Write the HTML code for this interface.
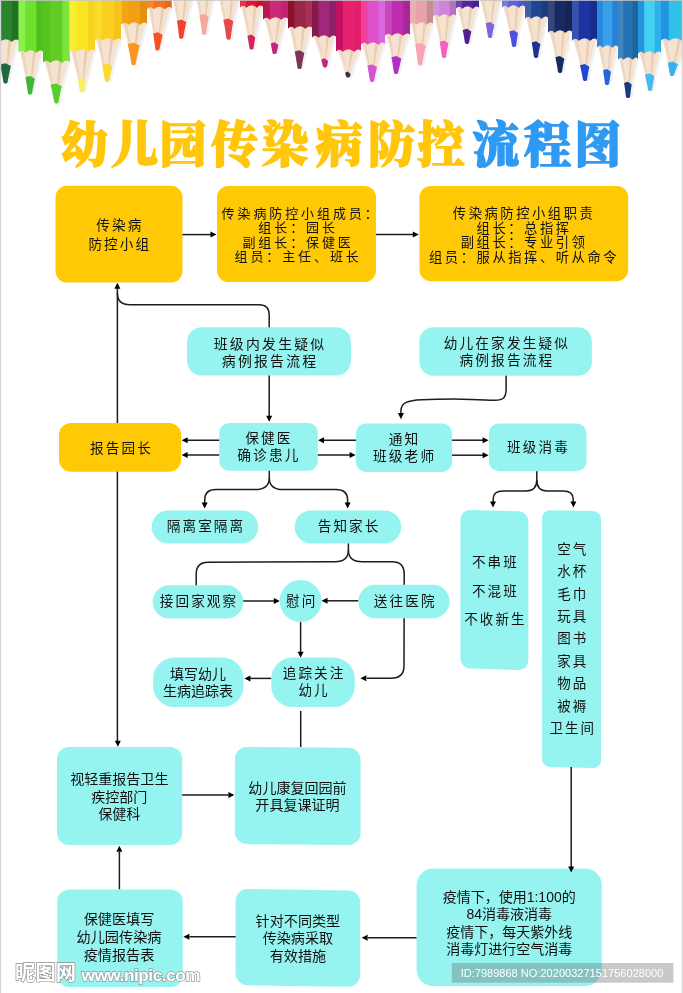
<!DOCTYPE html>
<html lang="zh-CN"><head><meta charset="utf-8"><title>幼儿园传染病防控流程图</title>
<style>
html,body{margin:0;padding:0;background:#fff;}
body{width:683px;height:993px;overflow:hidden;position:relative;font-family:"Liberation Sans","Noto Sans CJK SC",sans-serif;}
svg{position:absolute;left:0;top:0;display:block;will-change:transform;}
text{font-family:"Liberation Sans","Noto Sans CJK SC",sans-serif;fill:#111;text-anchor:middle;dominant-baseline:central;}
.sp{font-weight:400;}
.ns{font-weight:400;}
.title{font-family:"Liberation Serif","Noto Serif CJK SC",serif;font-weight:900;font-size:50px;text-anchor:start;dominant-baseline:alphabetic;letter-spacing:0.9px;}
</style></head><body>
<svg width="683" height="993" viewBox="0 0 683 993">
<rect x="0" y="0" width="683" height="993" fill="#fff"/>

<g id="pencils">
<polygon points="-4.0,38.5 -2.9,42.4 -1.9,46.2 -0.9,50.0 0.0,53.8 0.9,57.5 1.8,61.2 2.6,64.9 3.4,68.6 4.1,72.2 4.8,75.9 5.4,79.4 6.0,83.0 8.0,84.0 10.0,83.0 10.6,79.4 11.3,75.9 12.1,72.2 12.9,68.6 13.7,64.9 14.6,61.2 15.5,57.5 16.4,53.8 17.4,50.0 18.5,46.2 19.6,42.4 20.7,38.5" fill="#e9edf2" opacity="0.7"/>
<polygon points="-6.5,38.0 -5.4,41.9 -4.4,45.7 -3.4,49.5 -2.5,53.3 -1.6,57.0 -0.7,60.8 0.1,64.4 0.9,68.1 1.6,71.8 2.3,75.4 2.9,78.9 3.5,82.5 5.5,83.5 7.5,82.5 8.1,78.9 8.8,75.4 9.6,71.8 10.4,68.1 11.2,64.4 12.1,60.8 13.0,57.0 13.9,53.3 14.9,49.5 16.0,45.7 17.1,41.9 18.2,38.0" fill="#f5e2cf"/>
<polygon points="8.4,38 11.5,38 6.3,77.5 5.7,77.5" fill="#e2c2a4" opacity="0.7"/>
<polygon points="-4.9,38 -1.9,38 4.3,73.5 3.7,73.5" fill="#e8ccb0" opacity="0.6"/>
<polygon points="0.1,64.4 0.1,64.4 0.9,68.1 1.6,71.8 2.3,75.4 2.9,78.9 3.5,82.5 4.7,83.5 6.3,83.5 7.5,82.5 8.1,78.9 8.8,75.4 9.6,71.8 10.4,68.1 11.2,64.4 10.9,65.9 5.5,63.2" fill="#1f6a3a"/>
<path d="M-7,-5 L-7,41.5 Q-3.5,37.5 -0.1,41.8 Q5.8,36.5 11.8,41.8 Q15.2,37.5 18.7,40.5 L18.7,-5 Z" fill="#2a862c"/>
<path d="M-7,-5 L-7,41.5 Q-3.5,37.5 -0.1,41.8 L-0.1,-5 Z" fill="#2f9432"/>
<path d="M11.8,-5 L11.8,41.8 Q15.2,37.5 18.7,40.5 L18.7,-5 Z" fill="#1f7424"/>
<polygon points="21.7,49.5 22.7,53.4 23.6,57.2 24.5,61.0 25.3,64.8 26.1,68.5 26.9,72.2 27.6,75.9 28.3,79.6 28.9,83.2 29.5,86.9 30.0,90.4 30.5,94.0 32.5,95.0 34.5,94.0 35.1,90.4 35.8,86.9 36.5,83.2 37.3,79.6 38.1,75.9 39.0,72.2 39.8,68.5 40.8,64.8 41.8,61.0 42.8,57.2 43.9,53.4 45.0,49.5" fill="#e9edf2" opacity="0.7"/>
<polygon points="19.2,49.0 20.2,52.9 21.1,56.7 22.0,60.5 22.8,64.3 23.6,68.0 24.4,71.8 25.1,75.4 25.8,79.1 26.4,82.8 27.0,86.4 27.5,89.9 28.0,93.5 30.0,94.5 32.0,93.5 32.6,89.9 33.3,86.4 34.0,82.8 34.8,79.1 35.6,75.4 36.5,71.8 37.3,68.0 38.3,64.3 39.3,60.5 40.3,56.7 41.4,52.9 42.5,49.0" fill="#f5e2cf"/>
<polygon points="33.3,49 36.2,49 30.8,88.5 30.2,88.5" fill="#e2c2a4" opacity="0.7"/>
<polygon points="20.6,49 23.6,49 28.8,84.5 28.2,84.5" fill="#e8ccb0" opacity="0.6"/>
<polygon points="25.4,77.2 25.8,79.1 26.4,82.8 27.0,86.4 27.5,89.9 28.0,93.5 29.2,94.5 30.8,94.5 32.0,93.5 32.6,89.9 33.3,86.4 34.0,82.8 34.8,79.1 34.9,78.7 30.2,76.0" fill="#3cb835"/>
<path d="M18.7,-5 L18.7,52.5 Q22.0,48.5 25.3,52.8 Q30.9,47.5 36.4,52.8 Q39.7,48.5 43,51.5 L43,-5 Z" fill="#70e030"/>
<path d="M18.7,-5 L18.7,52.5 Q22.0,48.5 25.3,52.8 L25.3,-5 Z" fill="#8cf04c"/>
<path d="M36.4,-5 L36.4,52.8 Q39.7,48.5 43,51.5 L43,-5 Z" fill="#50c020"/>
<polygon points="46.0,59.5 47.2,63.3 48.3,67.0 49.3,70.8 50.3,74.4 51.3,78.1 52.3,81.8 53.1,85.4 54.0,88.9 54.8,92.5 55.5,96.0 56.2,99.5 56.9,103.0 58.9,104.0 60.9,103.0 61.5,99.5 62.2,96.0 63.0,92.5 63.7,88.9 64.5,85.4 65.4,81.8 66.3,78.1 67.3,74.4 68.2,70.8 69.3,67.0 70.4,63.3 71.5,59.5" fill="#e9edf2" opacity="0.7"/>
<polygon points="43.5,59.0 44.7,62.8 45.8,66.5 46.8,70.2 47.8,73.9 48.8,77.6 49.8,81.2 50.6,84.9 51.5,88.4 52.3,92.0 53.0,95.5 53.7,99.0 54.4,102.5 56.4,103.5 58.4,102.5 59.0,99.0 59.7,95.5 60.5,92.0 61.2,88.4 62.0,84.9 62.9,81.2 63.8,77.6 64.8,73.9 65.8,70.2 66.8,66.5 67.9,62.8 69.0,59.0" fill="#f5e2cf"/>
<polygon points="58.9,59 62.1,59 57.2,97.5 56.6,97.5" fill="#e2c2a4" opacity="0.7"/>
<polygon points="45.1,59 48.3,59 55.2,93.5 54.6,93.5" fill="#e8ccb0" opacity="0.6"/>
<polygon points="50.6,84.8 50.6,84.9 51.5,88.4 52.3,92.0 53.0,95.5 53.7,99.0 54.4,102.5 55.6,103.5 57.2,103.5 58.4,102.5 59.0,99.0 59.7,95.5 60.5,92.0 61.2,88.4 62.0,84.9 61.7,86.3 56.2,83.6" fill="#55d02a"/>
<path d="M43,-5 L43,62.5 Q46.6,58.5 50.2,62.8 Q56.2,57.5 62.3,62.8 Q65.9,58.5 69.5,61.5 L69.5,-5 Z" fill="#60cc24"/>
<path d="M43,-5 L43,62.5 Q46.6,58.5 50.2,62.8 L50.2,-5 Z" fill="#54c41e"/>
<path d="M62.3,-5 L62.3,62.8 Q65.9,58.5 69.5,61.5 L69.5,-5 Z" fill="#7ce43a"/>
<polygon points="72.5,48.5 73.6,52.3 74.6,56.0 75.6,59.8 76.5,63.4 77.4,67.1 78.3,70.8 79.1,74.4 79.9,77.9 80.6,81.5 81.3,85.0 81.9,88.5 82.5,92.0 84.5,93.0 86.5,92.0 87.1,88.5 87.8,85.0 88.5,81.5 89.3,77.9 90.1,74.4 91.0,70.8 91.8,67.1 92.8,63.4 93.8,59.8 94.8,56.0 95.9,52.3 97.0,48.5" fill="#e9edf2" opacity="0.7"/>
<polygon points="70.0,48.0 71.1,51.8 72.1,55.5 73.1,59.2 74.0,62.9 74.9,66.6 75.8,70.2 76.6,73.9 77.4,77.4 78.1,81.0 78.8,84.5 79.4,88.0 80.0,91.5 82.0,92.5 84.0,91.5 84.6,88.0 85.3,84.5 86.0,81.0 86.8,77.4 87.6,73.9 88.5,70.2 89.3,66.6 90.3,62.9 91.3,59.2 92.3,55.5 93.4,51.8 94.5,48.0" fill="#f5e2cf"/>
<polygon points="84.8,48 87.9,48 82.8,86.5 82.2,86.5" fill="#e2c2a4" opacity="0.7"/>
<polygon points="71.5,48 74.6,48 80.8,82.5 80.2,82.5" fill="#e8ccb0" opacity="0.6"/>
<polygon points="77.7,79.2 78.1,81.0 78.8,84.5 79.4,88.0 80.0,91.5 81.2,92.5 82.8,92.5 84.0,91.5 84.6,88.0 85.3,84.5 86.0,81.0 86.1,80.7 81.9,78.0" fill="#f8ef62"/>
<path d="M69.5,-5 L69.5,51.5 Q72.9,47.5 76.4,51.8 Q82.2,46.5 88.1,51.8 Q91.6,47.5 95,50.5 L95,-5 Z" fill="#f8e624"/>
<path d="M69.5,-5 L69.5,51.5 Q72.9,47.5 76.4,51.8 L76.4,-5 Z" fill="#f8ee30"/>
<path d="M88.1,-5 L88.1,51.8 Q91.6,47.5 95,50.5 L95,-5 Z" fill="#f6d420"/>
<polygon points="98.0,37.5 99.0,41.3 100.0,45.1 101.0,48.9 101.9,52.6 102.7,56.3 103.5,60.0 104.3,63.7 105.0,67.3 105.7,70.9 106.4,74.4 107.0,78.0 107.5,81.5 109.5,82.5 111.5,81.5 112.2,78.0 113.0,74.4 113.8,70.9 114.6,67.3 115.5,63.7 116.5,60.0 117.4,56.3 118.5,52.6 119.5,48.9 120.6,45.1 121.8,41.3 123.0,37.5" fill="#e9edf2" opacity="0.7"/>
<polygon points="95.5,37.0 96.5,40.8 97.5,44.6 98.5,48.4 99.4,52.1 100.2,55.8 101.0,59.5 101.8,63.2 102.5,66.8 103.2,70.4 103.9,73.9 104.5,77.5 105.0,81.0 107.0,82.0 109.0,81.0 109.7,77.5 110.5,73.9 111.3,70.4 112.1,66.8 113.0,63.2 114.0,59.5 114.9,55.8 116.0,52.1 117.0,48.4 118.1,44.6 119.3,40.8 120.5,37.0" fill="#f5e2cf"/>
<polygon points="110.6,37 113.7,37 107.8,76.0 107.2,76.0" fill="#e2c2a4" opacity="0.7"/>
<polygon points="97.1,37 100.2,37 105.8,72.0 105.2,72.0" fill="#e8ccb0" opacity="0.6"/>
<polygon points="102.2,64.9 102.5,66.8 103.2,70.4 103.9,73.9 104.5,77.5 105.0,81.0 106.2,82.0 107.8,82.0 109.0,81.0 109.7,77.5 110.5,73.9 111.3,70.4 112.1,66.8 112.2,66.4 107.2,63.7" fill="#fbdc28"/>
<path d="M95,-5 L95,40.5 Q98.5,36.5 102.0,40.8 Q108.0,35.5 114.0,40.8 Q117.5,36.5 121,39.5 L121,-5 Z" fill="#f9d020"/>
<path d="M95,-5 L95,40.5 Q98.5,36.5 102.0,40.8 L102.0,-5 Z" fill="#fbdc2c"/>
<path d="M114.0,-5 L114.0,40.8 Q117.5,36.5 121,39.5 L121,-5 Z" fill="#f6c21c"/>
<polygon points="124.5,21.5 125.5,25.3 126.5,29.0 127.5,32.7 128.4,36.4 129.2,40.0 130.1,43.6 130.8,47.2 131.5,50.8 132.2,54.3 132.9,57.9 133.5,61.3 134.0,64.8 136.0,65.8 138.0,64.8 138.7,61.3 139.4,57.9 140.2,54.3 141.0,50.8 141.8,47.2 142.7,43.6 143.6,40.0 144.6,36.4 145.7,32.7 146.7,29.0 147.8,25.3 149.0,21.5" fill="#e9edf2" opacity="0.7"/>
<polygon points="122.0,21.0 123.0,24.8 124.0,28.5 125.0,32.2 125.9,35.9 126.7,39.5 127.5,43.1 128.3,46.7 129.0,50.3 129.7,53.8 130.4,57.4 131.0,60.8 131.5,64.3 133.5,65.3 135.5,64.3 136.2,60.8 136.9,57.4 137.7,53.8 138.5,50.3 139.3,46.7 140.2,43.1 141.1,39.5 142.1,35.9 143.2,32.2 144.2,28.5 145.3,24.8 146.5,21.0" fill="#f5e2cf"/>
<polygon points="136.8,21 139.9,21 134.3,59.3 133.7,59.3" fill="#e2c2a4" opacity="0.7"/>
<polygon points="123.5,21 126.6,21 132.3,55.3 131.7,55.3" fill="#e8ccb0" opacity="0.6"/>
<polygon points="127.7,44.0 128.3,46.7 129.0,50.3 129.7,53.8 130.4,57.4 131.0,60.8 131.5,64.3 132.7,65.3 134.3,65.3 135.5,64.3 136.2,60.8 136.9,57.4 137.7,53.8 138.5,50.3 139.3,46.7 139.6,45.5 133.7,42.8" fill="#f89820"/>
<path d="M121.5,-5 L121.5,24.5 Q124.9,20.5 128.4,24.8 Q134.2,19.5 140.1,24.8 Q143.6,20.5 147,23.5 L147,-5 Z" fill="#f0a010"/>
<path d="M121.5,-5 L121.5,24.5 Q124.9,20.5 128.4,24.8 L128.4,-5 Z" fill="#f4a414"/>
<path d="M140.1,-5 L140.1,24.8 Q143.6,20.5 147,23.5 L147,-5 Z" fill="#e68e10"/>
<polygon points="150.0,6.0 150.9,9.8 151.8,13.6 152.6,17.4 153.3,21.1 154.1,24.8 154.8,28.5 155.4,32.2 156.0,35.8 156.5,39.4 157.0,42.9 157.5,46.5 157.9,50.0 159.9,51.0 161.9,50.0 162.6,46.5 163.4,42.9 164.2,39.4 165.1,35.8 166.0,32.2 166.9,28.5 167.9,24.8 168.9,21.1 170.0,17.4 171.1,13.6 172.3,9.8 173.5,6.0" fill="#e9edf2" opacity="0.7"/>
<polygon points="147.5,5.5 148.4,9.3 149.3,13.1 150.1,16.9 150.8,20.6 151.6,24.3 152.2,28.0 152.9,31.7 153.5,35.3 154.0,38.9 154.5,42.4 155.0,46.0 155.4,49.5 157.4,50.5 159.4,49.5 160.1,46.0 160.9,42.4 161.7,38.9 162.6,35.3 163.5,31.7 164.4,28.0 165.4,24.3 166.4,20.6 167.5,16.9 168.6,13.1 169.8,9.3 171.0,5.5" fill="#f5e2cf"/>
<polygon points="161.7,5.5 164.6,5.5 158.2,44.5 157.6,44.5" fill="#e2c2a4" opacity="0.7"/>
<polygon points="149.0,5.5 151.9,5.5 156.2,40.5 155.6,40.5" fill="#e8ccb0" opacity="0.6"/>
<polygon points="153.2,33.4 153.5,35.3 154.0,38.9 154.5,42.4 155.0,46.0 155.4,49.5 156.6,50.5 158.2,50.5 159.4,49.5 160.1,46.0 160.9,42.4 161.7,38.9 162.6,35.3 162.6,34.9 157.9,32.2" fill="#f85020"/>
<path d="M147,-5 L147,9.0 Q150.3,5.0 153.6,9.3 Q159.2,4.0 164.9,9.3 Q168.2,5.0 171.5,8.0 L171.5,-5 Z" fill="#f87018"/>
<path d="M147,-5 L147,9.0 Q150.3,5.0 153.6,9.3 L153.6,-5 Z" fill="#ff8224"/>
<path d="M164.9,-5 L164.9,9.3 Q168.2,5.0 171.5,8.0 L171.5,-5 Z" fill="#f0641a"/>
<polygon points="174.5,-3.5 175.3,0.1 176.1,3.7 176.9,7.3 177.6,10.9 178.3,14.4 178.9,17.9 179.5,21.4 180.0,24.8 180.5,28.2 180.9,31.6 181.3,35.0 181.7,38.3 183.7,39.3 185.7,38.3 186.3,35.0 186.9,31.6 187.6,28.2 188.3,24.8 189.0,21.4 189.8,17.9 190.6,14.4 191.5,10.9 192.4,7.3 193.4,3.7 194.4,0.1 195.5,-3.5" fill="#e9edf2" opacity="0.7"/>
<polygon points="172.0,-4.0 172.8,-0.4 173.6,3.2 174.4,6.8 175.1,10.4 175.8,13.9 176.4,17.4 177.0,20.9 177.5,24.3 178.0,27.7 178.4,31.1 178.8,34.5 179.2,37.8 181.2,38.8 183.2,37.8 183.8,34.5 184.4,31.1 185.1,27.7 185.8,24.3 186.5,20.9 187.3,17.4 188.1,13.9 189.0,10.4 189.9,6.8 190.9,3.2 191.9,-0.4 193.0,-4.0" fill="#f5e2cf"/>
<polygon points="184.7,-4 187.3,-4 182.0,32.8 181.4,32.8" fill="#e2c2a4" opacity="0.7"/>
<polygon points="173.3,-4 175.9,-4 180.0,28.8 179.4,28.8" fill="#e8ccb0" opacity="0.6"/>
<polygon points="177.0,20.8 177.0,20.9 177.5,24.3 178.0,27.7 178.4,31.1 178.8,34.5 179.2,37.8 180.4,38.8 182.0,38.8 183.2,37.8 183.8,34.5 184.4,31.1 185.1,27.7 185.8,24.3 186.5,20.9 186.2,22.3 181.6,19.6" fill="#f0432e"/>
<path d="M171.5,-5 L171.5,-0.5 Q174.5,-4.5 177.4,-0.19999999999999996 Q182.5,-5.5 187.6,-0.19999999999999996 Q190.5,-4.5 193.5,-1.5 L193.5,-5 Z" fill="#f26522"/>
<path d="M171.5,-5 L171.5,-0.5 Q174.5,-4.5 177.4,-0.19999999999999996 L177.4,-5 Z" fill="#f37a40"/>
<path d="M187.6,-5 L187.6,-0.19999999999999996 Q190.5,-4.5 193.5,-1.5 L193.5,-5 Z" fill="#d2571d"/>
<polygon points="197.5,-5.5 198.3,-2.0 199.1,1.4 199.8,4.8 200.5,8.2 201.2,11.6 201.8,14.9 202.4,18.2 202.9,21.5 203.3,24.7 203.8,27.9 204.2,31.1 204.5,34.3 206.5,35.3 208.5,34.3 208.9,31.1 209.4,27.9 209.9,24.7 210.5,21.5 211.1,18.2 211.7,14.9 212.4,11.6 213.1,8.2 213.9,4.8 214.7,1.4 215.6,-2.0 216.5,-5.5" fill="#e9edf2" opacity="0.7"/>
<polygon points="195.0,-6.0 195.8,-2.5 196.6,0.9 197.3,4.3 198.0,7.7 198.7,11.1 199.3,14.4 199.9,17.7 200.4,21.0 200.8,24.2 201.3,27.4 201.7,30.6 202.0,33.8 204.0,34.8 206.0,33.8 206.4,30.6 206.9,27.4 207.4,24.2 208.0,21.0 208.6,17.7 209.2,14.4 209.9,11.1 210.6,7.7 211.4,4.3 212.2,0.9 213.1,-2.5 214.0,-6.0" fill="#f5e2cf"/>
<polygon points="206.5,-6 208.9,-6 204.8,28.8 204.2,28.8" fill="#e2c2a4" opacity="0.7"/>
<polygon points="196.1,-6 198.5,-6 202.8,24.8 202.2,24.8" fill="#e8ccb0" opacity="0.6"/>
<polygon points="199.4,15.2 199.9,17.7 200.4,21.0 200.8,24.2 201.3,27.4 201.7,30.6 202.0,33.8 203.2,34.8 204.8,34.8 206.0,33.8 206.4,30.6 206.9,27.4 207.4,24.2 208.0,21.0 208.6,17.7 208.7,16.7 204.1,14.0" fill="#f7a89c"/>
<path d="M194.5,-5 L194.5,-2.5 Q197.2,-6.5 199.9,-2.2 Q204.5,-7.5 209.1,-2.2 Q211.8,-6.5 214.5,-3.5 L214.5,-5 Z" fill="#f7a89c"/>
<path d="M194.5,-5 L194.5,-2.5 Q197.2,-6.5 199.9,-2.2 L199.9,-5 Z" fill="#f8b4a9"/>
<path d="M209.1,-5 L209.1,-2.2 Q211.8,-6.5 214.5,-3.5 L214.5,-5 Z" fill="#d69287"/>
<polygon points="220.5,-3.5 221.5,0.2 222.4,3.9 223.2,7.6 224.0,11.2 224.8,14.8 225.6,18.4 226.2,22.0 226.9,25.5 227.5,29.0 228.0,32.4 228.5,35.9 229.0,39.3 231.0,40.3 233.0,39.3 233.5,35.9 234.0,32.4 234.5,29.0 235.1,25.5 235.8,22.0 236.4,18.4 237.2,14.8 238.0,11.2 238.8,7.6 239.6,3.9 240.5,0.2 241.5,-3.5" fill="#e9edf2" opacity="0.7"/>
<polygon points="218.0,-4.0 219.0,-0.3 219.9,3.4 220.7,7.1 221.5,10.7 222.3,14.3 223.1,17.9 223.7,21.5 224.4,25.0 225.0,28.5 225.5,31.9 226.0,35.4 226.5,38.8 228.5,39.8 230.5,38.8 231.0,35.4 231.5,31.9 232.0,28.5 232.6,25.0 233.3,21.5 233.9,17.9 234.7,14.3 235.5,10.7 236.3,7.1 237.1,3.4 238.0,-0.3 239.0,-4.0" fill="#f5e2cf"/>
<polygon points="230.7,-4 233.3,-4 229.3,33.8 228.7,33.8" fill="#e2c2a4" opacity="0.7"/>
<polygon points="219.3,-4 221.9,-4 227.3,29.8 226.7,29.8" fill="#e8ccb0" opacity="0.6"/>
<polygon points="223.4,19.7 223.7,21.5 224.4,25.0 225.0,28.5 225.5,31.9 226.0,35.4 226.5,38.8 227.7,39.8 229.3,39.8 230.5,38.8 231.0,35.4 231.5,31.9 232.0,28.5 232.6,25.0 233.3,21.5 233.3,21.2 228.4,18.5" fill="#e8484a"/>
<path d="M217.5,-5 L217.5,-0.5 Q220.5,-4.5 223.4,-0.19999999999999996 Q228.5,-5.5 233.6,-0.19999999999999996 Q236.5,-4.5 239.5,-1.5 L239.5,-5 Z" fill="#e8484a"/>
<path d="M217.5,-5 L217.5,-0.5 Q220.5,-4.5 223.4,-0.19999999999999996 L223.4,-5 Z" fill="#eb6163"/>
<path d="M233.6,-5 L233.6,-0.19999999999999996 Q236.5,-4.5 239.5,-1.5 L239.5,-5 Z" fill="#c93e40"/>
<polygon points="243.0,4.5 244.0,8.4 244.9,12.2 245.8,16.0 246.7,19.8 247.5,23.5 248.3,27.2 249.0,30.9 249.7,34.6 250.3,38.2 250.9,41.9 251.5,45.4 252.0,49.0 254.0,50.0 256.0,49.0 256.5,45.4 257.1,41.9 257.6,38.2 258.3,34.6 259.0,30.9 259.7,27.2 260.5,23.5 261.3,19.8 262.1,16.0 263.1,12.2 264.0,8.4 265.0,4.5" fill="#e9edf2" opacity="0.7"/>
<polygon points="240.5,4.0 241.5,7.9 242.4,11.7 243.3,15.5 244.2,19.3 245.0,23.0 245.8,26.8 246.5,30.4 247.2,34.1 247.8,37.8 248.4,41.4 249.0,44.9 249.5,48.5 251.5,49.5 253.5,48.5 254.0,44.9 254.6,41.4 255.1,37.8 255.8,34.1 256.5,30.4 257.2,26.8 258.0,23.0 258.8,19.3 259.6,15.5 260.6,11.7 261.5,7.9 262.5,4.0" fill="#f5e2cf"/>
<polygon points="253.8,4 256.6,4 252.3,43.5 251.7,43.5" fill="#e2c2a4" opacity="0.7"/>
<polygon points="241.8,4 244.6,4 250.3,39.5 249.7,39.5" fill="#e8ccb0" opacity="0.6"/>
<polygon points="247.5,35.8 247.8,37.8 248.4,41.4 249.0,44.9 249.5,48.5 250.7,49.5 252.3,49.5 253.5,48.5 254.0,44.9 254.6,41.4 255.1,37.8 255.2,37.3 251.4,34.6" fill="#d42462"/>
<path d="M240,-5 L240,7.5 Q243.1,3.5 246.2,7.8 Q251.5,2.5 256.8,7.8 Q259.9,3.5 263,6.5 L263,-5 Z" fill="#e0142e"/>
<path d="M240,-5 L240,7.5 Q243.1,3.5 246.2,7.8 L246.2,-5 Z" fill="#e4344b"/>
<path d="M256.8,-5 L256.8,7.8 Q259.9,3.5 263,6.5 L263,-5 Z" fill="#c21128"/>
<polygon points="266.0,16.5 267.0,19.7 267.9,22.9 268.9,26.1 269.7,29.3 270.5,32.4 271.3,35.5 272.0,38.6 272.7,41.6 273.4,44.6 273.9,47.6 274.5,50.6 275.0,53.5 277.0,54.5 279.0,53.5 279.7,50.6 280.4,47.6 281.1,44.6 282.0,41.6 282.8,38.6 283.7,35.5 284.6,32.4 285.6,29.3 286.6,26.1 287.7,22.9 288.8,19.7 290.0,16.5" fill="#e9edf2" opacity="0.7"/>
<polygon points="263.5,16.0 264.5,19.2 265.4,22.4 266.4,25.6 267.2,28.8 268.0,31.9 268.8,35.0 269.5,38.1 270.2,41.1 270.9,44.1 271.4,47.1 272.0,50.1 272.5,53.0 274.5,54.0 276.5,53.0 277.2,50.1 277.9,47.1 278.6,44.1 279.5,41.1 280.3,38.1 281.2,35.0 282.1,31.9 283.1,28.8 284.1,25.6 285.2,22.4 286.3,19.2 287.5,16.0" fill="#f5e2cf"/>
<polygon points="278.0,16 281.0,16 275.3,48.0 274.7,48.0" fill="#e2c2a4" opacity="0.7"/>
<polygon points="265.0,16 268.0,16 273.3,44.0 272.7,44.0" fill="#e8ccb0" opacity="0.6"/>
<polygon points="270.7,43.4 270.9,44.1 271.4,47.1 272.0,50.1 272.5,53.0 273.7,54.0 275.3,54.0 276.5,53.0 277.2,50.1 277.9,47.1 278.6,44.1 278.5,44.9 274.6,42.2" fill="#c42384"/>
<path d="M263,-5 L263,19.5 Q266.4,15.5 269.8,19.8 Q275.5,14.5 281.2,19.8 Q284.6,15.5 288,18.5 L288,-5 Z" fill="#d02878"/>
<path d="M263,-5 L263,19.5 Q266.4,15.5 269.8,19.8 L269.8,-5 Z" fill="#b81a48"/>
<path d="M281.2,-5 L281.2,19.8 Q284.6,15.5 288,18.5 L288,-5 Z" fill="#c42274"/>
<polygon points="291.0,25.5 292.0,29.2 292.9,32.9 293.9,36.6 294.7,40.3 295.5,43.9 296.3,47.5 297.0,51.1 297.7,54.6 298.4,58.1 298.9,61.6 299.5,65.1 300.0,68.5 302.0,69.5 304.0,68.5 304.6,65.1 305.2,61.6 305.9,58.1 306.6,54.6 307.4,51.1 308.2,47.5 309.1,43.9 310.0,40.3 310.9,36.6 311.9,32.9 312.9,29.2 314.0,25.5" fill="#e9edf2" opacity="0.7"/>
<polygon points="288.5,25.0 289.5,28.7 290.4,32.4 291.4,36.1 292.2,39.8 293.0,43.4 293.8,47.0 294.5,50.6 295.2,54.1 295.9,57.6 296.4,61.1 297.0,64.6 297.5,68.0 299.5,69.0 301.5,68.0 302.1,64.6 302.7,61.1 303.4,57.6 304.1,54.1 304.9,50.6 305.7,47.0 306.6,43.4 307.5,39.8 308.4,36.1 309.4,32.4 310.4,28.7 311.5,25.0" fill="#f5e2cf"/>
<polygon points="302.4,25 305.3,25 300.3,63.0 299.7,63.0" fill="#e2c2a4" opacity="0.7"/>
<polygon points="289.9,25 292.8,25 298.3,59.0 297.7,59.0" fill="#e8ccb0" opacity="0.6"/>
<polygon points="294.7,51.4 295.2,54.1 295.9,57.6 296.4,61.1 297.0,64.6 297.5,68.0 298.7,69.0 300.3,69.0 301.5,68.0 302.1,64.6 302.7,61.1 303.4,57.6 304.1,54.1 304.4,52.9 299.5,50.2" fill="#7c3458"/>
<path d="M288,-5 L288,28.5 Q291.2,24.5 294.5,28.8 Q300.0,23.5 305.5,28.8 Q308.8,24.5 312,27.5 L312,-5 Z" fill="#9c2848"/>
<path d="M288,-5 L288,28.5 Q291.2,24.5 294.5,28.8 L294.5,-5 Z" fill="#8c1028"/>
<path d="M305.5,-5 L305.5,28.8 Q308.8,24.5 312,27.5 L312,-5 Z" fill="#a83058"/>
<polygon points="315.0,34.5 316.1,37.4 317.2,40.2 318.2,43.0 319.2,45.8 320.2,48.5 321.1,51.2 321.9,53.9 322.7,56.6 323.5,59.2 324.2,61.9 324.9,64.4 325.5,67.0 327.5,68.0 329.5,67.0 330.0,64.4 330.5,61.9 331.0,59.2 331.6,56.6 332.3,53.9 332.9,51.2 333.7,48.5 334.5,45.8 335.3,43.0 336.1,40.2 337.0,37.4 338.0,34.5" fill="#e9edf2" opacity="0.7"/>
<polygon points="312.5,34.0 313.6,36.9 314.7,39.7 315.7,42.5 316.7,45.3 317.7,48.0 318.6,50.8 319.4,53.4 320.2,56.1 321.0,58.8 321.7,61.4 322.4,63.9 323.0,66.5 325.0,67.5 327.0,66.5 327.5,63.9 328.0,61.4 328.5,58.8 329.1,56.1 329.8,53.4 330.4,50.8 331.2,48.0 332.0,45.3 332.8,42.5 333.6,39.7 334.5,36.9 335.5,34.0" fill="#f5e2cf"/>
<polygon points="326.4,34 329.3,34 325.8,61.5 325.2,61.5" fill="#e2c2a4" opacity="0.7"/>
<polygon points="313.9,34 316.8,34 323.8,57.5 323.2,57.5" fill="#e8ccb0" opacity="0.6"/>
<polygon points="321.2,59.5 321.7,61.4 322.4,63.9 323.0,66.5 324.2,67.5 325.8,67.5 327.0,66.5 327.5,63.9 328.0,61.4 328.1,61.0 324.6,58.3" fill="#c22582"/>
<path d="M312,-5 L312,37.5 Q315.2,33.5 318.5,37.8 Q324.0,32.5 329.5,37.8 Q332.8,33.5 336,36.5 L336,-5 Z" fill="#a0287a"/>
<path d="M312,-5 L312,37.5 Q315.2,33.5 318.5,37.8 L318.5,-5 Z" fill="#86184a"/>
<path d="M329.5,-5 L329.5,37.8 Q332.8,33.5 336,36.5 L336,-5 Z" fill="#8c2068"/>
<polygon points="339.0,48.5 340.0,51.0 341.0,53.5 342.0,56.0 342.9,58.4 343.7,60.9 344.6,63.2 345.3,65.6 346.0,67.9 346.7,70.2 347.4,72.5 348.0,74.8 348.5,77.0 350.5,78.0 352.5,77.0 353.1,74.8 353.8,72.5 354.5,70.2 355.3,67.9 356.1,65.6 356.9,63.2 357.8,60.9 358.8,58.4 359.8,56.0 360.8,53.5 361.9,51.0 363.0,48.5" fill="#e9edf2" opacity="0.7"/>
<polygon points="336.5,48.0 337.5,50.5 338.5,53.0 339.5,55.5 340.4,57.9 341.2,60.4 342.1,62.8 342.8,65.1 343.5,67.4 344.2,69.8 344.9,72.0 345.5,74.3 346.0,76.5 348.0,77.5 350.0,76.5 350.6,74.3 351.3,72.0 352.0,69.8 352.8,67.4 353.6,65.1 354.4,62.8 355.3,60.4 356.3,57.9 357.3,55.5 358.3,53.0 359.4,50.5 360.5,48.0" fill="#f5e2cf"/>
<polygon points="351.0,48 354.0,48 348.8,71.5 348.2,71.5" fill="#e2c2a4" opacity="0.7"/>
<polygon points="338.0,48 341.0,48 346.8,67.5 346.2,67.5" fill="#e8ccb0" opacity="0.6"/>
<polygon points="345.1,72.8 345.5,74.3 346.0,76.5 347.2,77.5 348.8,77.5 350.0,76.5 350.6,74.3 350.6,74.3 347.8,71.6" fill="#3a2f4f"/>
<path d="M336,-5 L336,51.5 Q339.4,47.5 342.8,51.8 Q348.5,46.5 354.2,51.8 Q357.6,47.5 361,50.5 L361,-5 Z" fill="#e82070"/>
<path d="M336,-5 L336,51.5 Q339.4,47.5 342.8,51.8 L342.8,-5 Z" fill="#c01060"/>
<path d="M354.2,-5 L354.2,51.8 Q357.6,47.5 361,50.5 L361,-5 Z" fill="#e41e6c"/>
<polygon points="364.0,41.5 365.0,45.0 365.9,48.4 366.7,51.9 367.5,55.3 368.3,58.7 369.1,62.0 369.7,65.3 370.4,68.6 371.0,71.9 371.5,75.1 372.0,78.3 372.5,81.5 374.5,82.5 376.5,81.5 377.1,78.3 377.8,75.1 378.5,71.9 379.3,68.6 380.1,65.3 380.9,62.0 381.8,58.7 382.8,55.3 383.8,51.9 384.8,48.4 385.9,45.0 387.0,41.5" fill="#e9edf2" opacity="0.7"/>
<polygon points="361.5,41.0 362.5,44.5 363.4,47.9 364.2,51.4 365.0,54.8 365.8,58.2 366.6,61.5 367.2,64.8 367.9,68.1 368.5,71.4 369.0,74.6 369.5,77.8 370.0,81.0 372.0,82.0 374.0,81.0 374.6,77.8 375.3,74.6 376.0,71.4 376.8,68.1 377.6,64.8 378.4,61.5 379.3,58.2 380.3,54.8 381.3,51.4 382.3,47.9 383.4,44.5 384.5,41.0" fill="#f5e2cf"/>
<polygon points="375.4,41 378.3,41 372.8,76.0 372.2,76.0" fill="#e2c2a4" opacity="0.7"/>
<polygon points="362.9,41 365.8,41 370.8,72.0 370.2,72.0" fill="#e8ccb0" opacity="0.6"/>
<polygon points="367.4,65.6 367.9,68.1 368.5,71.4 369.0,74.6 369.5,77.8 370.0,81.0 371.2,82.0 372.8,82.0 374.0,81.0 374.6,77.8 375.3,74.6 376.0,71.4 376.8,68.1 377.0,67.1 372.2,64.4" fill="#d452d6"/>
<path d="M361,-5 L361,44.5 Q364.2,40.5 367.5,44.8 Q373.0,39.5 378.5,44.8 Q381.8,40.5 385,43.5 L385,-5 Z" fill="#e050c8"/>
<path d="M361,-5 L361,44.5 Q364.2,40.5 367.5,44.8 L367.5,-5 Z" fill="#f040a0"/>
<path d="M378.5,-5 L378.5,44.8 Q381.8,40.5 385,43.5 L385,-5 Z" fill="#d868e0"/>
<polygon points="388.0,32.5 389.0,36.1 389.9,39.6 390.7,43.1 391.5,46.6 392.3,50.1 393.1,53.5 393.7,56.9 394.4,60.3 395.0,63.6 395.5,66.9 396.0,70.2 396.5,73.5 398.5,74.5 400.5,73.5 401.2,70.2 402.0,66.9 402.8,63.6 403.6,60.3 404.5,56.9 405.4,53.5 406.4,50.1 407.5,46.6 408.5,43.1 409.6,39.6 410.8,36.1 412.0,32.5" fill="#e9edf2" opacity="0.7"/>
<polygon points="385.5,32.0 386.5,35.6 387.4,39.1 388.2,42.6 389.0,46.1 389.8,49.6 390.6,53.0 391.2,56.4 391.9,59.8 392.5,63.1 393.0,66.4 393.5,69.7 394.0,73.0 396.0,74.0 398.0,73.0 398.7,69.7 399.5,66.4 400.3,63.1 401.1,59.8 402.0,56.4 402.9,53.0 403.9,49.6 405.0,46.1 406.0,42.6 407.1,39.1 408.3,35.6 409.5,32.0" fill="#f5e2cf"/>
<polygon points="400.0,32 403.0,32 396.8,68.0 396.2,68.0" fill="#e2c2a4" opacity="0.7"/>
<polygon points="387.0,32 390.0,32 394.8,64.0 394.2,64.0" fill="#e8ccb0" opacity="0.6"/>
<polygon points="391.4,57.2 391.9,59.8 392.5,63.1 393.0,66.4 393.5,69.7 394.0,73.0 395.2,74.0 396.8,74.0 398.0,73.0 398.7,69.7 399.5,66.4 400.3,63.1 401.1,59.8 401.4,58.7 396.4,56.0" fill="#b02fc4"/>
<path d="M385,-5 L385,35.5 Q388.4,31.5 391.8,35.8 Q397.5,30.5 403.2,35.8 Q406.6,31.5 410,34.5 L410,-5 Z" fill="#c02cb0"/>
<path d="M385,-5 L385,35.5 Q388.4,31.5 391.8,35.8 L391.8,-5 Z" fill="#c849bb"/>
<path d="M403.2,-5 L403.2,35.8 Q406.6,31.5 410,34.5 L410,-5 Z" fill="#a72699"/>
<polygon points="413.0,21.5 413.9,25.3 414.7,29.0 415.5,32.8 416.2,36.4 416.9,40.1 417.6,43.8 418.2,47.4 418.7,50.9 419.2,54.5 419.7,58.0 420.1,61.5 420.5,65.0 422.5,66.0 424.5,65.0 425.1,61.5 425.8,58.0 426.5,54.5 427.3,50.9 428.1,47.4 428.9,43.8 429.8,40.1 430.8,36.4 431.8,32.8 432.8,29.0 433.9,25.3 435.0,21.5" fill="#e9edf2" opacity="0.7"/>
<polygon points="410.5,21.0 411.4,24.8 412.2,28.5 413.0,32.2 413.7,35.9 414.4,39.6 415.1,43.2 415.7,46.9 416.2,50.4 416.7,54.0 417.2,57.5 417.6,61.0 418.0,64.5 420.0,65.5 422.0,64.5 422.6,61.0 423.3,57.5 424.0,54.0 424.8,50.4 425.6,46.9 426.4,43.2 427.3,39.6 428.3,35.9 429.3,32.2 430.3,28.5 431.4,24.8 432.5,21.0" fill="#f5e2cf"/>
<polygon points="423.8,21 426.6,21 420.8,59.5 420.2,59.5" fill="#e2c2a4" opacity="0.7"/>
<polygon points="411.8,21 414.6,21 418.8,55.5 418.2,55.5" fill="#e8ccb0" opacity="0.6"/>
<polygon points="415.2,44.1 415.7,46.9 416.2,50.4 416.7,54.0 417.2,57.5 417.6,61.0 418.0,64.5 419.2,65.5 420.8,65.5 422.0,64.5 422.6,61.0 423.3,57.5 424.0,54.0 424.8,50.4 425.6,46.9 425.9,45.6 420.5,42.9" fill="#f9a3bb"/>
<path d="M410,-5 L410,24.5 Q413.1,20.5 416.2,24.8 Q421.5,19.5 426.8,24.8 Q429.9,20.5 433,23.5 L433,-5 Z" fill="#e7a3a8"/>
<path d="M410,-5 L410,24.5 Q413.1,20.5 416.2,24.8 L416.2,-5 Z" fill="#eaafb4"/>
<path d="M426.8,-5 L426.8,24.8 Q429.9,20.5 433,23.5 L433,-5 Z" fill="#c88d92"/>
<polygon points="436.0,13.5 437.0,17.3 437.9,21.1 438.7,24.9 439.5,28.6 440.3,32.3 441.1,36.0 441.7,39.7 442.4,43.3 443.0,46.9 443.5,50.4 444.0,54.0 444.5,57.5 446.5,58.5 448.5,57.5 449.0,54.0 449.6,50.4 450.3,46.9 451.0,43.3 451.7,39.7 452.4,36.0 453.3,32.3 454.1,28.6 455.0,24.9 456.0,21.1 457.0,17.3 458.0,13.5" fill="#e9edf2" opacity="0.7"/>
<polygon points="433.5,13.0 434.5,16.8 435.4,20.6 436.2,24.4 437.0,28.1 437.8,31.8 438.6,35.5 439.2,39.2 439.9,42.8 440.5,46.4 441.0,49.9 441.5,53.5 442.0,57.0 444.0,58.0 446.0,57.0 446.5,53.5 447.1,49.9 447.8,46.4 448.5,42.8 449.2,39.2 449.9,35.5 450.8,31.8 451.6,28.1 452.5,24.4 453.5,20.6 454.5,16.8 455.5,13.0" fill="#f5e2cf"/>
<polygon points="446.8,13 449.6,13 444.8,52.0 444.2,52.0" fill="#e2c2a4" opacity="0.7"/>
<polygon points="434.8,13 437.6,13 442.8,48.0 442.2,48.0" fill="#e8ccb0" opacity="0.6"/>
<polygon points="439.7,41.8 439.9,42.8 440.5,46.4 441.0,49.9 441.5,53.5 442.0,57.0 443.2,58.0 444.8,58.0 446.0,57.0 446.5,53.5 447.1,49.9 447.8,46.4 448.5,42.8 448.4,43.3 444.0,40.6" fill="#f95fc2"/>
<path d="M433,-5 L433,16.5 Q436.1,12.5 439.2,16.8 Q444.5,11.5 449.8,16.8 Q452.9,12.5 456,15.5 L456,-5 Z" fill="#cf84d9"/>
<path d="M433,-5 L433,16.5 Q436.1,12.5 439.2,16.8 L439.2,-5 Z" fill="#d595de"/>
<path d="M449.8,-5 L449.8,16.8 Q452.9,12.5 456,15.5 L456,-5 Z" fill="#b472bc"/>
<polygon points="459.0,5.5 460.0,8.8 460.9,12.1 461.7,15.4 462.5,18.6 463.3,21.8 464.1,25.0 464.7,28.2 465.4,31.3 466.0,34.4 466.5,37.4 467.0,40.5 467.5,43.5 469.5,44.5 471.5,43.5 472.0,40.5 472.6,37.4 473.3,34.4 474.0,31.3 474.7,28.2 475.4,25.0 476.3,21.8 477.1,18.6 478.0,15.4 479.0,12.1 480.0,8.8 481.0,5.5" fill="#e9edf2" opacity="0.7"/>
<polygon points="456.5,5.0 457.5,8.3 458.4,11.6 459.2,14.9 460.0,18.1 460.8,21.3 461.6,24.5 462.2,27.7 462.9,30.8 463.5,33.9 464.0,36.9 464.5,40.0 465.0,43.0 467.0,44.0 469.0,43.0 469.5,40.0 470.1,36.9 470.8,33.9 471.5,30.8 472.2,27.7 472.9,24.5 473.8,21.3 474.6,18.1 475.5,14.9 476.5,11.6 477.5,8.3 478.5,5.0" fill="#f5e2cf"/>
<polygon points="469.8,5 472.6,5 467.8,38.0 467.2,38.0" fill="#e2c2a4" opacity="0.7"/>
<polygon points="457.8,5 460.6,5 465.8,34.0 465.2,34.0" fill="#e8ccb0" opacity="0.6"/>
<polygon points="462.7,30.0 462.9,30.8 463.5,33.9 464.0,36.9 464.5,40.0 465.0,43.0 466.2,44.0 467.8,44.0 469.0,43.0 469.5,40.0 470.1,36.9 470.8,33.9 471.5,30.8 471.3,31.5 467.0,28.8" fill="#4e2090"/>
<path d="M456,-5 L456,8.5 Q459.1,4.5 462.2,8.8 Q467.5,3.5 472.8,8.8 Q475.9,4.5 479,7.5 L479,-5 Z" fill="#5424a3"/>
<path d="M456,-5 L456,8.5 Q459.1,4.5 462.2,8.8 L462.2,-5 Z" fill="#6b42af"/>
<path d="M472.8,-5 L472.8,8.8 Q475.9,4.5 479,7.5 L479,-5 Z" fill="#491f8d"/>
<polygon points="482.0,-2.5 483.0,1.0 483.9,4.4 484.7,7.9 485.5,11.3 486.3,14.7 487.1,18.0 487.7,21.3 488.4,24.6 489.0,27.9 489.5,31.1 490.0,34.3 490.5,37.5 492.5,38.5 494.5,37.5 495.0,34.3 495.6,31.1 496.3,27.9 497.0,24.6 497.7,21.3 498.4,18.0 499.3,14.7 500.1,11.3 501.0,7.9 502.0,4.4 503.0,1.0 504.0,-2.5" fill="#e9edf2" opacity="0.7"/>
<polygon points="479.5,-3.0 480.5,0.5 481.4,3.9 482.2,7.4 483.0,10.8 483.8,14.2 484.6,17.5 485.2,20.8 485.9,24.1 486.5,27.4 487.0,30.6 487.5,33.8 488.0,37.0 490.0,38.0 492.0,37.0 492.5,33.8 493.1,30.6 493.8,27.4 494.5,24.1 495.2,20.8 495.9,17.5 496.8,14.2 497.6,10.8 498.5,7.4 499.5,3.9 500.5,0.5 501.5,-3.0" fill="#f5e2cf"/>
<polygon points="492.8,-3 495.6,-3 490.8,32.0 490.2,32.0" fill="#e2c2a4" opacity="0.7"/>
<polygon points="480.8,-3 483.6,-3 488.8,28.0 488.2,28.0" fill="#e8ccb0" opacity="0.6"/>
<polygon points="485.7,23.2 485.9,24.1 486.5,27.4 487.0,30.6 487.5,33.8 488.0,37.0 489.2,38.0 490.8,38.0 492.0,37.0 492.5,33.8 493.1,30.6 493.8,27.4 494.5,24.1 494.3,24.7 490.0,22.0" fill="#8463e2"/>
<path d="M479,-5 L479,0.5 Q482.1,-3.5 485.2,0.8 Q490.5,-4.5 495.8,0.8 Q498.9,-3.5 502,-0.5 L502,-5 Z" fill="#8a7ae0"/>
<path d="M479,-5 L479,0.5 Q482.1,-3.5 485.2,0.8 L485.2,-5 Z" fill="#9a8ce4"/>
<path d="M495.8,-5 L495.8,0.8 Q498.9,-3.5 502,-0.5 L502,-5 Z" fill="#786ac2"/>
<polygon points="505.0,4.5 506.0,8.2 507.0,11.8 508.0,15.4 508.9,18.9 509.7,22.5 510.6,26.0 511.3,29.5 512.0,32.9 512.7,36.4 513.4,39.8 514.0,43.2 514.5,46.5 516.5,47.5 518.5,46.5 519.0,43.2 519.5,39.8 520.0,36.4 520.6,32.9 521.3,29.5 522.0,26.0 522.7,22.5 523.5,18.9 524.3,15.4 525.1,11.8 526.0,8.2 527.0,4.5" fill="#e9edf2" opacity="0.7"/>
<polygon points="502.5,4.0 503.5,7.7 504.5,11.3 505.5,14.9 506.4,18.4 507.2,22.0 508.1,25.5 508.8,29.0 509.5,32.4 510.2,35.9 510.9,39.3 511.5,42.7 512.0,46.0 514.0,47.0 516.0,46.0 516.5,42.7 517.0,39.3 517.5,35.9 518.1,32.4 518.8,29.0 519.5,25.5 520.2,22.0 521.0,18.4 521.8,14.9 522.6,11.3 523.5,7.7 524.5,4.0" fill="#f5e2cf"/>
<polygon points="515.8,4 518.6,4 514.8,41.0 514.2,41.0" fill="#e2c2a4" opacity="0.7"/>
<polygon points="503.8,4 506.6,4 512.8,37.0 512.2,37.0" fill="#e8ccb0" opacity="0.6"/>
<polygon points="509.4,31.5 509.5,32.4 510.2,35.9 510.9,39.3 511.5,42.7 512.0,46.0 513.2,47.0 514.8,47.0 516.0,46.0 516.5,42.7 517.0,39.3 517.5,35.9 518.1,32.4 518.0,33.0 513.7,30.3" fill="#5050e0"/>
<path d="M502,-5 L502,7.5 Q505.1,3.5 508.2,7.8 Q513.5,2.5 518.8,7.8 Q521.9,3.5 525,6.5 L525,-5 Z" fill="#5c63e0"/>
<path d="M502,-5 L502,7.5 Q505.1,3.5 508.2,7.8 L508.2,-5 Z" fill="#7278e4"/>
<path d="M518.8,-5 L518.8,7.8 Q521.9,3.5 525,6.5 L525,-5 Z" fill="#5056c2"/>
<polygon points="528.0,15.5 529.0,19.2 529.9,22.8 530.7,26.4 531.5,29.9 532.3,33.5 533.0,37.0 533.7,40.5 534.4,43.9 535.0,47.4 535.5,50.8 536.0,54.2 536.5,57.5 538.5,58.5 540.5,57.5 541.0,54.2 541.6,50.8 542.3,47.4 543.0,43.9 543.7,40.5 544.5,37.0 545.3,33.5 546.1,29.9 547.0,26.4 548.0,22.8 549.0,19.2 550.0,15.5" fill="#e9edf2" opacity="0.7"/>
<polygon points="525.5,15.0 526.5,18.7 527.4,22.3 528.2,25.9 529.0,29.4 529.8,33.0 530.5,36.5 531.2,40.0 531.9,43.4 532.5,46.9 533.0,50.3 533.5,53.7 534.0,57.0 536.0,58.0 538.0,57.0 538.5,53.7 539.1,50.3 539.8,46.9 540.5,43.4 541.2,40.0 542.0,36.5 542.8,33.0 543.6,29.4 544.5,25.9 545.5,22.3 546.5,18.7 547.5,15.0" fill="#f5e2cf"/>
<polygon points="538.8,15 541.6,15 536.8,52.0 536.2,52.0" fill="#e2c2a4" opacity="0.7"/>
<polygon points="526.8,15 529.6,15 534.8,48.0 534.2,48.0" fill="#e8ccb0" opacity="0.6"/>
<polygon points="531.7,42.5 531.9,43.4 532.5,46.9 533.0,50.3 533.5,53.7 534.0,57.0 535.2,58.0 536.8,58.0 538.0,57.0 538.5,53.7 539.1,50.3 539.8,46.9 540.5,43.4 540.3,44.0 536.0,41.3" fill="#1f3291"/>
<path d="M525,-5 L525,18.5 Q528.1,14.5 531.2,18.8 Q536.5,13.5 541.8,18.8 Q544.9,14.5 548,17.5 L548,-5 Z" fill="#1f4494"/>
<path d="M525,-5 L525,18.5 Q528.1,14.5 531.2,18.8 L531.2,-5 Z" fill="#3e5ea2"/>
<path d="M541.8,-5 L541.8,18.8 Q544.9,14.5 548,17.5 L548,-5 Z" fill="#1a3b80"/>
<polygon points="551.0,29.5 552.0,33.2 553.0,36.9 554.0,40.6 554.9,44.3 555.7,47.9 556.5,51.5 557.3,55.1 558.0,58.6 558.7,62.1 559.4,65.6 560.0,69.1 560.5,72.5 562.5,73.5 564.5,72.5 565.0,69.1 565.6,65.6 566.3,62.1 567.0,58.6 567.7,55.1 568.5,51.5 569.3,47.9 570.1,44.3 571.0,40.6 572.0,36.9 573.0,33.2 574.0,29.5" fill="#e9edf2" opacity="0.7"/>
<polygon points="548.5,29.0 549.5,32.7 550.5,36.4 551.5,40.1 552.4,43.8 553.2,47.4 554.0,51.0 554.8,54.6 555.5,58.1 556.2,61.6 556.9,65.1 557.5,68.6 558.0,72.0 560.0,73.0 562.0,72.0 562.5,68.6 563.1,65.1 563.8,61.6 564.5,58.1 565.2,54.6 566.0,51.0 566.8,47.4 567.6,43.8 568.5,40.1 569.5,36.4 570.5,32.7 571.5,29.0" fill="#f5e2cf"/>
<polygon points="562.4,29 565.3,29 560.8,67.0 560.2,67.0" fill="#e2c2a4" opacity="0.7"/>
<polygon points="549.9,29 552.8,29 558.8,63.0 558.2,63.0" fill="#e8ccb0" opacity="0.6"/>
<polygon points="555.3,57.2 555.5,58.1 556.2,61.6 556.9,65.1 557.5,68.6 558.0,72.0 559.2,73.0 560.8,73.0 562.0,72.0 562.5,68.6 563.1,65.1 563.8,61.6 564.5,58.1 564.3,58.7 559.8,56.0" fill="#172a66"/>
<path d="M548,-5 L548,32.5 Q551.2,28.5 554.5,32.8 Q560.0,27.5 565.5,32.8 Q568.8,28.5 572,31.5 L572,-5 Z" fill="#172a63"/>
<path d="M548,-5 L548,32.5 Q551.2,28.5 554.5,32.8 L554.5,-5 Z" fill="#374778"/>
<path d="M565.5,-5 L565.5,32.8 Q568.8,28.5 572,31.5 L572,-5 Z" fill="#142456"/>
<polygon points="575.0,37.5 576.1,41.2 577.2,44.9 578.2,48.6 579.2,52.3 580.2,55.9 581.0,59.5 581.9,63.1 582.7,66.6 583.5,70.1 584.2,73.6 584.9,77.1 585.5,80.5 587.5,81.5 589.5,80.5 590.0,77.1 590.6,73.6 591.3,70.1 592.0,66.6 592.7,63.1 593.5,59.5 594.3,55.9 595.1,52.3 596.0,48.6 597.0,44.9 598.0,41.2 599.0,37.5" fill="#e9edf2" opacity="0.7"/>
<polygon points="572.5,37.0 573.6,40.7 574.7,44.4 575.7,48.1 576.7,51.8 577.7,55.4 578.5,59.0 579.4,62.6 580.2,66.1 581.0,69.6 581.7,73.1 582.4,76.6 583.0,80.0 585.0,81.0 587.0,80.0 587.5,76.6 588.1,73.1 588.8,69.6 589.5,66.1 590.2,62.6 591.0,59.0 591.8,55.4 592.6,51.8 593.5,48.1 594.5,44.4 595.5,40.7 596.5,37.0" fill="#f5e2cf"/>
<polygon points="587.0,37 590.0,37 585.8,75.0 585.2,75.0" fill="#e2c2a4" opacity="0.7"/>
<polygon points="574.0,37 577.0,37 583.8,71.0 583.2,71.0" fill="#e8ccb0" opacity="0.6"/>
<polygon points="580.0,65.2 580.2,66.1 581.0,69.6 581.7,73.1 582.4,76.6 583.0,80.0 584.2,81.0 585.8,81.0 587.0,80.0 587.5,76.6 588.1,73.1 588.8,69.6 589.5,66.1 589.3,66.7 584.7,64.0" fill="#2244d4"/>
<path d="M572,-5 L572,40.5 Q575.4,36.5 578.8,40.8 Q584.5,35.5 590.2,40.8 Q593.6,36.5 597,39.5 L597,-5 Z" fill="#1b34a3"/>
<path d="M572,-5 L572,40.5 Q575.4,36.5 578.8,40.8 L578.8,-5 Z" fill="#3a50af"/>
<path d="M590.2,-5 L590.2,40.8 Q593.6,36.5 597,39.5 L597,-5 Z" fill="#172d8d"/>
<polygon points="600.0,44.5 600.9,48.0 601.7,51.4 602.5,54.9 603.2,58.3 603.9,61.7 604.5,65.0 605.2,68.3 605.7,71.6 606.2,74.9 606.7,78.1 607.1,81.3 607.5,84.5 609.5,85.5 611.5,84.5 612.0,81.3 612.5,78.1 613.0,74.9 613.6,71.6 614.3,68.3 615.0,65.0 615.7,61.7 616.5,58.3 617.3,54.9 618.1,51.4 619.0,48.0 620.0,44.5" fill="#e9edf2" opacity="0.7"/>
<polygon points="597.5,44.0 598.4,47.5 599.2,50.9 600.0,54.4 600.7,57.8 601.4,61.2 602.0,64.5 602.7,67.8 603.2,71.1 603.7,74.4 604.2,77.6 604.6,80.8 605.0,84.0 607.0,85.0 609.0,84.0 609.5,80.8 610.0,77.6 610.5,74.4 611.1,71.1 611.8,67.8 612.5,64.5 613.2,61.2 614.0,57.8 614.8,54.4 615.6,50.9 616.5,47.5 617.5,44.0" fill="#f5e2cf"/>
<polygon points="609.6,44 612.1,44 607.8,79.0 607.2,79.0" fill="#e2c2a4" opacity="0.7"/>
<polygon points="598.7,44 601.2,44 605.8,75.0 605.2,75.0" fill="#e8ccb0" opacity="0.6"/>
<polygon points="603.1,70.2 603.2,71.1 603.7,74.4 604.2,77.6 604.6,80.8 605.0,84.0 606.2,85.0 607.8,85.0 609.0,84.0 609.5,80.8 610.0,77.6 610.5,74.4 611.1,71.1 611.0,71.7 607.0,69.0" fill="#2563e3"/>
<path d="M597,-5 L597,47.5 Q599.8,43.5 602.7,47.8 Q607.5,42.5 612.3,47.8 Q615.2,43.5 618,46.5 L618,-5 Z" fill="#38a0e8"/>
<path d="M597,-5 L597,47.5 Q599.8,43.5 602.7,47.8 L602.7,-5 Z" fill="#2888e0"/>
<path d="M612.3,-5 L612.3,47.8 Q615.2,43.5 618,46.5 L618,-5 Z" fill="#2482dc"/>
<polygon points="621.0,56.5 621.9,60.1 622.7,63.6 623.5,67.1 624.2,70.6 624.9,74.1 625.5,77.5 626.2,80.9 626.7,84.3 627.2,87.6 627.7,90.9 628.1,94.2 628.5,97.5 630.5,98.5 632.5,97.5 632.9,94.2 633.3,90.9 633.8,87.6 634.3,84.3 634.8,80.9 635.5,77.5 636.1,74.1 636.8,70.6 637.5,67.1 638.3,63.6 639.1,60.1 640.0,56.5" fill="#e9edf2" opacity="0.7"/>
<polygon points="618.5,56.0 619.4,59.6 620.2,63.1 621.0,66.6 621.7,70.1 622.4,73.6 623.0,77.0 623.7,80.4 624.2,83.8 624.7,87.1 625.2,90.4 625.6,93.7 626.0,97.0 628.0,98.0 630.0,97.0 630.4,93.7 630.8,90.4 631.3,87.1 631.8,83.8 632.3,80.4 633.0,77.0 633.6,73.6 634.3,70.1 635.0,66.6 635.8,63.1 636.6,59.6 637.5,56.0" fill="#f5e2cf"/>
<polygon points="630.0,56 632.4,56 628.8,92.0 628.2,92.0" fill="#e2c2a4" opacity="0.7"/>
<polygon points="619.6,56 622.0,56 626.8,88.0 626.2,88.0" fill="#e8ccb0" opacity="0.6"/>
<polygon points="624.1,82.9 624.2,83.8 624.7,87.1 625.2,90.4 625.6,93.7 626.0,97.0 627.2,98.0 628.8,98.0 630.0,97.0 630.4,93.7 630.8,90.4 631.3,87.1 631.8,83.8 631.7,84.4 627.9,81.7" fill="#173a80"/>
<path d="M618,-5 L618,59.5 Q620.7,55.5 623.4,59.8 Q628.0,54.5 632.6,59.8 Q635.3,55.5 638,58.5 L638,-5 Z" fill="#2272b4"/>
<path d="M618,-5 L618,59.5 Q620.7,55.5 623.4,59.8 L623.4,-5 Z" fill="#4085be"/>
<path d="M632.6,-5 L632.6,59.8 Q635.3,55.5 638,58.5 L638,-5 Z" fill="#1d639c"/>
<polygon points="641.0,50.5 642.0,54.0 643.0,57.4 644.0,60.9 644.9,64.3 645.7,67.7 646.5,71.0 647.3,74.3 648.0,77.6 648.7,80.9 649.4,84.1 650.0,87.3 650.5,90.5 652.5,91.5 654.5,90.5 655.0,87.3 655.5,84.1 656.0,80.9 656.6,77.6 657.3,74.3 658.0,71.0 658.7,67.7 659.5,64.3 660.3,60.9 661.1,57.4 662.0,54.0 663.0,50.5" fill="#e9edf2" opacity="0.7"/>
<polygon points="638.5,50.0 639.5,53.5 640.5,56.9 641.5,60.4 642.4,63.8 643.2,67.2 644.0,70.5 644.8,73.8 645.5,77.1 646.2,80.4 646.9,83.6 647.5,86.8 648.0,90.0 650.0,91.0 652.0,90.0 652.5,86.8 653.0,83.6 653.5,80.4 654.1,77.1 654.8,73.8 655.5,70.5 656.2,67.2 657.0,63.8 657.8,60.4 658.6,56.9 659.5,53.5 660.5,50.0" fill="#f5e2cf"/>
<polygon points="651.8,50 654.6,50 650.8,85.0 650.2,85.0" fill="#e2c2a4" opacity="0.7"/>
<polygon points="639.8,50 642.6,50 648.8,81.0 648.2,81.0" fill="#e8ccb0" opacity="0.6"/>
<polygon points="645.0,74.6 645.5,77.1 646.2,80.4 646.9,83.6 647.5,86.8 648.0,90.0 649.2,91.0 650.8,91.0 652.0,90.0 652.5,86.8 653.0,83.6 653.5,80.4 654.1,77.1 654.3,76.1 649.7,73.4" fill="#45baf2"/>
<path d="M638,-5 L638,53.5 Q641.1,49.5 644.2,53.8 Q649.5,48.5 654.8,53.8 Q657.9,49.5 661,52.5 L661,-5 Z" fill="#44d0f0"/>
<path d="M638,-5 L638,53.5 Q641.1,49.5 644.2,53.8 L644.2,-5 Z" fill="#2494e2"/>
<path d="M654.8,-5 L654.8,53.8 Q657.9,49.5 661,52.5 L661,-5 Z" fill="#30b0e8"/>
<polygon points="664.0,37.5 665.0,40.8 665.9,44.1 666.7,47.4 667.5,50.6 668.3,53.8 669.0,57.0 669.7,60.2 670.4,63.3 671.0,66.4 671.5,69.4 672.0,72.5 672.5,75.5 674.5,76.5 676.5,75.5 677.5,72.5 678.6,69.4 679.8,66.4 681.0,63.3 682.2,60.2 683.5,57.0 684.8,53.8 686.1,50.6 687.5,47.4 689.0,44.1 690.5,40.8 692.0,37.5" fill="#e9edf2" opacity="0.7"/>
<polygon points="661.5,37.0 662.5,40.3 663.4,43.6 664.2,46.9 665.0,50.1 665.8,53.3 666.5,56.5 667.2,59.7 667.9,62.8 668.5,65.9 669.0,68.9 669.5,72.0 670.0,75.0 672.0,76.0 674.0,75.0 675.0,72.0 676.1,68.9 677.3,65.9 678.5,62.8 679.7,59.7 681.0,56.5 682.3,53.3 683.6,50.1 685.0,46.9 686.5,43.6 688.0,40.3 689.5,37.0" fill="#f5e2cf"/>
<polygon points="678.4,37 681.9,37 672.8,70.0 672.2,70.0" fill="#e2c2a4" opacity="0.7"/>
<polygon points="663.3,37 666.8,37 670.8,66.0 670.2,66.0" fill="#e8ccb0" opacity="0.6"/>
<polygon points="667.9,62.7 667.9,62.8 668.5,65.9 669.0,68.9 669.5,72.0 670.0,75.0 671.2,76.0 672.8,76.0 674.0,75.0 675.0,72.0 676.1,68.9 677.3,65.9 678.5,62.8 677.9,64.2 672.9,61.5" fill="#32b2f2"/>
<path d="M661,-5 L661,40.5 Q664.9,36.5 668.8,40.8 Q675.5,35.5 682.2,40.8 Q686.1,36.5 690,39.5 L690,-5 Z" fill="#30c0e8"/>
<path d="M661,-5 L661,40.5 Q664.9,36.5 668.8,40.8 L668.8,-5 Z" fill="#2494e2"/>
<path d="M682.2,-5 L682.2,40.8 Q686.1,36.5 690,39.5 L690,-5 Z" fill="#2aa2e2"/>
</g>
<text transform="translate(0,162.2) scale(0.94,0.985)" x="64.7 118.2 169.7 224.2 278.2 335.7 391.4 444.5" y="0" class="title" style="fill:#ffc60c;stroke:#ffc60c;stroke-width:1.5px;stroke-linejoin:round;letter-spacing:0">幼儿园传染病防控<tspan x="502.4 557.4 610.9" style="fill:#2e9af3;stroke:#2e9af3">流程图</tspan></text>
<g id="lines">
<path d="M117.4,288 L117.4,741" fill="none" stroke="#1c1c1c" stroke-width="1.5"/>
<polygon points="117.4,282.7 114.4,288.7 120.4,288.7" fill="#000"/>
<polygon points="117.8,746.8 114.8,740.8 120.8,740.8" fill="#000"/>
<path d="M117.4,293 Q117.4,304.8 130,304.8 L259,304.8 Q269.2,304.8 269.2,315 L269.2,416" fill="none" stroke="#1c1c1c" stroke-width="1.5"/>
<polygon points="269.2,421.8 266.2,415.8 272.2,415.8" fill="#000"/>
<path d="M182,234.6 L211,234.6" fill="none" stroke="#1c1c1c" stroke-width="1.5"/>
<polygon points="216.5,234.6 210.5,231.6 210.5,237.6" fill="#000"/>
<path d="M376,234.6 L413,234.6" fill="none" stroke="#1c1c1c" stroke-width="1.5"/>
<polygon points="418.8,234.6 412.8,231.6 412.8,237.6" fill="#000"/>
<path d="M506.1,375 L506.1,389 C506.1,398 503,400.3 495,400.3 C480,400.3 465,399 455,399 C440,399 430,399.3 422,399.7 C408,400.3 400.9,402.5 400.9,411 L400.9,414" fill="none" stroke="#1c1c1c" stroke-width="1.5"/>
<polygon points="400.9,419.2 397.9,413.0 403.9,413.0" fill="#000"/>
<path d="M219.5,440.2 L187,440.2" fill="none" stroke="#1c1c1c" stroke-width="1.5"/>
<polygon points="181.6,440.2 187.6,437.2 187.6,443.2" fill="#000"/>
<path d="M219.5,454.9 L187,454.9" fill="none" stroke="#1c1c1c" stroke-width="1.5"/>
<polygon points="181.6,454.9 187.6,451.9 187.6,457.9" fill="#000"/>
<path d="M356,440.2 L323,440.2" fill="none" stroke="#1c1c1c" stroke-width="1.5"/>
<polygon points="318.0,440.2 324.0,437.2 324.0,443.2" fill="#000"/>
<path d="M317.5,454.9 L350.5,454.9" fill="none" stroke="#1c1c1c" stroke-width="1.5"/>
<polygon points="355.6,454.9 349.6,451.9 349.6,457.9" fill="#000"/>
<path d="M452,440.2 L483,440.2" fill="none" stroke="#1c1c1c" stroke-width="1.5"/>
<polygon points="488.6,440.2 482.6,437.2 482.6,443.2" fill="#000"/>
<path d="M452,455.2 L483,455.2" fill="none" stroke="#1c1c1c" stroke-width="1.5"/>
<polygon points="488.6,455.2 482.6,452.2 482.6,458.2" fill="#000"/>
<path d="M269.3,470.5 L269.3,478 Q269.3,489.5 255,489.6 L216,489.6 Q204.7,489.6 204.7,500 L204.7,503" fill="none" stroke="#1c1c1c" stroke-width="1.5"/>
<polygon points="204.7,508.6 201.7,502.6 207.7,502.6" fill="#000"/>
<path d="M269.3,478 Q269.3,489.5 283,489.6 L336,489.6 Q347.6,489.6 347.6,500 L347.6,503" fill="none" stroke="#1c1c1c" stroke-width="1.5"/>
<polygon points="347.6,508.6 344.6,502.6 350.6,502.6" fill="#000"/>
<path d="M536.8,471 L536.8,480 Q536.8,491 526,491 L503,491 Q493.2,491 493.2,499 L493.2,502" fill="none" stroke="#1c1c1c" stroke-width="1.5"/>
<polygon points="493.0,507.6 490.0,501.6 496.0,501.6" fill="#000"/>
<path d="M536.8,480 Q536.8,491 547,491 L563,491 Q573.2,491 573.2,499 L573.2,502" fill="none" stroke="#1c1c1c" stroke-width="1.5"/>
<polygon points="573.4,507.6 570.4,501.6 576.4,501.6" fill="#000"/>
<path d="M348.4,543 L348.4,550 Q348.4,561.6 335,561.8 L208,562.2 Q196.2,562.4 196.2,574 L196.2,586" fill="none" stroke="#1c1c1c" stroke-width="1.5"/>
<path d="M348.4,550 Q348.4,561.6 362,561.8 L392,561.8 Q404.2,561.8 404.2,574 L404,666 Q404,678.2 391,678.2 L367,678.2" fill="none" stroke="#1c1c1c" stroke-width="1.5"/>
<polygon points="360.4,678.2 366.4,675.2 366.4,681.2" fill="#000"/>
<path d="M243,601 L274,601" fill="none" stroke="#1c1c1c" stroke-width="1.5"/>
<polygon points="279.8,601.0 273.8,598.0 273.8,604.0" fill="#000"/>
<path d="M358.5,600.8 L327,600.8" fill="none" stroke="#1c1c1c" stroke-width="1.5"/>
<polygon points="321.5,600.8 327.5,597.8 327.5,603.8" fill="#000"/>
<path d="M300.6,621 L300.6,652" fill="none" stroke="#1c1c1c" stroke-width="1.5"/>
<polygon points="300.6,657.7 297.6,651.7 303.6,651.7" fill="#000"/>
<path d="M271.5,678.4 L250,678.4" fill="none" stroke="#1c1c1c" stroke-width="1.5"/>
<polygon points="244.4,678.4 250.4,675.4 250.4,681.4" fill="#000"/>
<path d="M300.7,711 L300.7,747" fill="none" stroke="#1c1c1c" stroke-width="1.5"/>
<path d="M182,795.1 L228.5,795.1" fill="none" stroke="#1c1c1c" stroke-width="1.5"/>
<polygon points="234.4,795.1 228.4,792.1 228.4,798.1" fill="#000"/>
<path d="M119.4,889.5 L119.4,852" fill="none" stroke="#1c1c1c" stroke-width="1.5"/>
<polygon points="119.4,845.8 116.4,851.8 122.4,851.8" fill="#000"/>
<path d="M237.5,936.8 L189.5,936.8" fill="none" stroke="#1c1c1c" stroke-width="1.5"/>
<polygon points="183.4,936.8 189.4,933.8 189.4,939.8" fill="#000"/>
<path d="M416.8,937.8 L368,937.8" fill="none" stroke="#1c1c1c" stroke-width="1.5"/>
<polygon points="361.6,937.8 367.6,934.8 367.6,940.8" fill="#000"/>
</g>
<g id="boxes">
<rect x="55.5" y="185.8" width="127.0" height="96.8" rx="11.5" ry="11.5" fill="#ffc906"/>
<text x="119.8" y="225.5" class="sp" font-size="13.6" letter-spacing="2.1">传染病</text>
<text x="119.8" y="244.2" class="sp" font-size="13.6" letter-spacing="2.1">防控小组</text>
<rect x="217" y="186" width="159.0" height="96.0" rx="11.5" ry="11.5" fill="#ffc906"/>
<text x="301.1" y="213.1" class="sp" font-size="13.0" letter-spacing="2.9">传染病防控小组成员：</text>
<text x="298.1" y="227.7" class="sp" font-size="13.0" letter-spacing="2.9">组长：园长</text>
<text x="298.1" y="242.3" class="sp" font-size="13.0" letter-spacing="2.9">副组长：保健医</text>
<text x="298.1" y="256.9" class="sp" font-size="13.0" letter-spacing="2.9">组员：主任、班长</text>
<rect x="419.4" y="186" width="208.8" height="95.2" rx="11.5" ry="11.5" fill="#ffc906"/>
<text x="524.1" y="213.2" class="sp" font-size="13.3" letter-spacing="2.55">传染病防控小组职责</text>
<text x="524.1" y="228.0" class="sp" font-size="13.3" letter-spacing="2.55">组长：总指挥</text>
<text x="524.1" y="242.8" class="sp" font-size="13.3" letter-spacing="2.55">副组长：专业引领</text>
<text x="524.1" y="257.6" class="sp" font-size="13.3" letter-spacing="2.55">组员：服从指挥、听从命令</text>
<rect x="187" y="327.2" width="164.0" height="48.4" rx="15" ry="15" fill="#96f4f0"/>
<text x="270.1" y="343.6" class="sp" font-size="13.9" letter-spacing="2.2">班级内发生疑似</text>
<text x="270.1" y="361.2" class="sp" font-size="13.9" letter-spacing="2.2">病例报告流程</text>
<rect x="419.4" y="327.2" width="172.5" height="48.6" rx="14" ry="14" fill="#96f4f0"/>
<text x="506.9" y="343.1" class="sp" font-size="13.7" letter-spacing="2.1">幼儿在家发生疑似</text>
<text x="506.9" y="360.1" class="sp" font-size="13.7" letter-spacing="2.1">病例报告流程</text>
<rect x="59" y="423" width="122.1" height="48.8" rx="12" ry="12" fill="#ffc906"/>
<text x="121.5" y="448.6" class="sp" font-size="13.6" letter-spacing="2.1">报告园长</text>
<rect x="219.3" y="423" width="98.5" height="47.8" rx="9.5" ry="9.5" fill="#96f4f0"/>
<text x="268.9" y="438.4" class="sp" font-size="13.7" letter-spacing="2.1">保健医</text>
<text x="268.9" y="455.6" class="sp" font-size="13.7" letter-spacing="2.1">确诊患儿</text>
<rect x="355.9" y="423.4" width="96.2" height="48.6" rx="10" ry="10" fill="#96f4f0"/>
<text x="404.6" y="439.4" class="sp" font-size="13.7" letter-spacing="2.1">通知</text>
<text x="404.6" y="456.2" class="sp" font-size="13.7" letter-spacing="2.1">班级老师</text>
<rect x="488.9" y="423.4" width="97.6" height="47.8" rx="10" ry="10" fill="#96f4f0"/>
<text x="538.5" y="447.4" class="sp" font-size="13.6" letter-spacing="2.1">班级消毒</text>
<rect x="151.7" y="510.5" width="106.6" height="33.0" rx="16.5" ry="16.5" fill="#96f4f0"/>
<text x="206.0" y="526.9" class="sp" font-size="13.6" letter-spacing="2.1">隔离室隔离</text>
<rect x="294.6" y="510.5" width="106.6" height="33.0" rx="16.5" ry="16.5" fill="#96f4f0"/>
<text x="349.1" y="526.9" class="sp" font-size="13.6" letter-spacing="2.1">告知家长</text>
<rect x="152.7" y="585.3" width="90.6" height="33.2" rx="16.6" ry="16.6" fill="#96f4f0"/>
<text x="199.0" y="601.6" class="sp" font-size="13.6" letter-spacing="2.1">接回家观察</text>
<rect x="279.6" y="580" width="42.0" height="42.0" rx="21" ry="21" fill="#96f4f0"/>
<text x="301.7" y="601.4" class="sp" font-size="13.6" letter-spacing="2.1">慰问</text>
<rect x="358.3" y="584.8" width="91.3" height="33.4" rx="16.7" ry="16.7" fill="#96f4f0"/>
<text x="405.2" y="601.4" class="sp" font-size="13.6" letter-spacing="2.1">送往医院</text>
<rect x="153.1" y="657.6" width="90.5" height="49.4" rx="21" ry="21" fill="#96f4f0"/>
<text x="198.0" y="673.8" class="ns" font-size="14" letter-spacing="0">填写幼儿</text>
<text x="198.0" y="690.7" class="ns" font-size="14" letter-spacing="0">生病追踪表</text>
<rect x="271.3" y="657.6" width="83.5" height="49.4" rx="21" ry="21" fill="#96f4f0"/>
<text x="314.1" y="673.5" class="sp" font-size="13.6" letter-spacing="2.1">追踪关注</text>
<text x="314.1" y="690.2" class="sp" font-size="13.6" letter-spacing="2.1">幼儿</text>
<rect x="57.0" y="747.0" width="125.2" height="98.0" rx="12" ry="12" fill="#96f4f0"/>
<text x="119.3" y="779.0" class="ns" font-size="14.05" letter-spacing="0">视轻重报告卫生</text>
<text x="119.3" y="796.6" class="ns" font-size="14.05" letter-spacing="0">疾控部门</text>
<text x="119.3" y="814.2" class="ns" font-size="14.05" letter-spacing="0">保健科</text>
<rect x="234.9" y="747.4" width="125.7" height="97.2" rx="12" ry="12" fill="#96f4f0" transform="translate(297.8,796.0) skewY(0.5) translate(-297.8,-796.0)"/>
<text x="297.5" y="788.0" class="ns" font-size="14.05" letter-spacing="0">幼儿康复回园前</text>
<text x="297.5" y="805.0" class="ns" font-size="14.05" letter-spacing="0">开具复课证明</text>
<rect x="57.2" y="889.4" width="125.6" height="97.6" rx="12" ry="12" fill="#96f4f0"/>
<text x="119.0" y="919.4" class="ns" font-size="14.15" letter-spacing="0">保健医填写</text>
<text x="119.0" y="937.1" class="ns" font-size="14.15" letter-spacing="0">幼儿园传染病</text>
<text x="119.0" y="954.8" class="ns" font-size="14.15" letter-spacing="0">疫情报告表</text>
<rect x="235.6" y="889.7" width="124.6" height="96.3" rx="12" ry="12" fill="#96f4f0" transform="translate(297.9,937.9) skewY(0.8) translate(-297.9,-937.9)"/>
<text x="297.9" y="920.6" class="ns" font-size="14.1" letter-spacing="0">针对不同类型</text>
<text x="297.9" y="938.2" class="ns" font-size="14.1" letter-spacing="0">传染病采取</text>
<text x="297.9" y="955.8" class="ns" font-size="14.1" letter-spacing="0">有效措施</text>
<rect x="416.6" y="868.6" width="185.2" height="117.4" rx="16.5" ry="16.5" fill="#96f4f0"/>
<text x="509.2" y="896.8" class="ns" font-size="14" letter-spacing="0">疫情下，使用1:100的</text>
<text x="509.2" y="914.3" class="ns" font-size="14" letter-spacing="0">84消毒液消毒</text>
<text x="509.2" y="931.9" class="ns" font-size="14" letter-spacing="0">疫情下，每天紫外线</text>
<text x="509.2" y="949.4" class="ns" font-size="14" letter-spacing="0">消毒灯进行空气消毒</text>
<rect x="460.4" y="510.6" width="68.0" height="158.7" rx="10" ry="10" fill="#96f4f0" transform="translate(494.4,590.0) skewY(1.7) translate(-494.4,-590.0)"/>
<text x="495.4" y="562.4" class="sp" font-size="13.5" letter-spacing="2.1">不串班</text>
<text x="495.4" y="591.0" class="sp" font-size="13.5" letter-spacing="2.1">不混班</text>
<text x="495.4" y="619.6" class="sp" font-size="13.5" letter-spacing="2.1">不收新生</text>
<rect x="542.1" y="510.6" width="58.9" height="256.9" rx="8" ry="8" fill="#96f4f0" transform="translate(571.5,639.0) skewY(1.2) translate(-571.5,-639.0)"/>
<text x="572.8" y="549.1" class="sp" font-size="13.5" letter-spacing="2.1">空气</text>
<text x="572.8" y="571.5" class="sp" font-size="13.5" letter-spacing="2.1">水杯</text>
<text x="572.8" y="594.0" class="sp" font-size="13.5" letter-spacing="2.1">毛巾</text>
<text x="572.8" y="616.4" class="sp" font-size="13.5" letter-spacing="2.1">玩具</text>
<text x="572.8" y="638.8" class="sp" font-size="13.5" letter-spacing="2.1">图书</text>
<text x="572.8" y="661.2" class="sp" font-size="13.5" letter-spacing="2.1">家具</text>
<text x="572.8" y="683.6" class="sp" font-size="13.5" letter-spacing="2.1">物品</text>
<text x="572.8" y="706.1" class="sp" font-size="13.5" letter-spacing="2.1">被褥</text>
<text x="572.8" y="728.5" class="sp" font-size="13.5" letter-spacing="2.1">卫生间</text>
</g>
<path d="M571.2,767 L571.2,867.5" fill="none" stroke="#1c1c1c" stroke-width="1.5"/>
<polygon points="571.2,872.6 568.2,866.6 574.2,866.6" fill="#000"/>
<g id="wm"><text x="15" y="972.6" style="text-anchor:start;font-weight:700;fill:#fff;stroke:#8c8c8c;stroke-width:1.3px;paint-order:stroke" font-size="20.4">昵图网</text><text x="81.5" y="974.6" style="text-anchor:start;font-weight:700;fill:#fff;stroke:#9a9a9a;stroke-width:1.5px;paint-order:stroke;letter-spacing:-0.45px" font-size="17.2">www.nipic.com</text>
<rect x="451.8" y="963" width="221.6" height="19.7" fill="#646464" opacity="0.35"/><text x="562" y="973.2" style="fill:#fff;font-weight:400" font-size="11.05">ID:7989868 NO:20200327151756028000</text></g>
<rect x="0" y="0" width="1.2" height="993" fill="#d4d4d4"/><rect x="681.8" y="0" width="1.2" height="993" fill="#d4d4d4"/><rect x="0" y="0" width="683" height="1" fill="#c8c8c8" opacity="0.8"/>
</svg></body></html>
